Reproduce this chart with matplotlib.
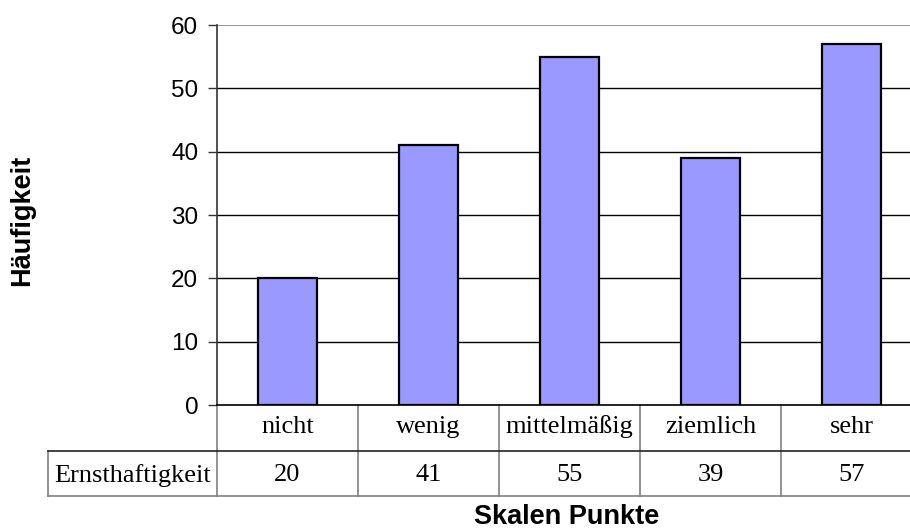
import matplotlib
matplotlib.use("Agg")
import matplotlib.pyplot as plt
from matplotlib.lines import Line2D

categories = ["nicht", "wenig", "mittelmäßig", "ziemlich", "sehr"]
series_name = "Ernsthaftigkeit"
values = [20, 41, 55, 39, 57]
y_ticks = [0, 10, 20, 30, 40, 50, 60]

W, H = 910, 532
fig = plt.figure(figsize=(W / 100, H / 100), dpi=100)

# plot area in pixel coordinates
left, right, top, bottom = 217, 922, 25, 405
ax = fig.add_axes([left / W, 1 - bottom / H, (right - left) / W, (bottom - top) / H])

x = list(range(len(categories)))
ax.bar(x, values, width=0.42, color="#9999FF", edgecolor="black", linewidth=1.6, zorder=3)

ax.set_xlim(-0.5, len(categories) - 0.5)
ax.set_ylim(0, 60)
ax.set_yticks(y_ticks)
ax.set_yticklabels([str(t) for t in y_ticks], fontsize=17.5, family="Liberation Sans")
ax.tick_params(axis="y", direction="out", length=6.5, width=1, color="#333333", pad=7)
ax.set_xticks([])

for t in y_ticks[1:-1]:
    ax.axhline(t, color="black", linewidth=1, zorder=1)
ax.axhline(60, color="#999999", linewidth=1.5, zorder=1)

for s in ["top", "right"]:
    ax.spines[s].set_visible(False)
ax.spines["left"].set_color("#333333")
ax.spines["left"].set_linewidth(1.2)
ax.spines["bottom"].set_color("black")
ax.spines["bottom"].set_linewidth(1.2)

# data table below the plot
ph = bottom - top
r1 = -(451 - bottom) / ph
r2 = -(496 - bottom) / ph
left_cell = ax.transAxes.inverted().transform(fig.transFigure.transform((48 / W, 0)))[0]
grey = "#808080"

def line(xs, ys, color, lw=1.0):
    ax.add_line(Line2D(xs, ys, transform=ax.transAxes, color=color, linewidth=lw, clip_on=False))

xmin, xmax = ax.get_xlim()
def xfrac(v):
    return (v - xmin) / (xmax - xmin)

for i in range(len(categories) + 1):
    xb = xfrac(i - 0.5)
    line([xb, xb], [0, r2], grey, 1.2)
line([left_cell, left_cell], [r1, r2], grey, 1.2)
line([left_cell, 1], [r1, r1], "#222222", 1.2)
line([left_cell, 1], [r2, r2], grey, 1.2)

serif = "Liberation Serif"
for i, (c, v) in enumerate(zip(categories, values)):
    xc = xfrac(i)
    ax.text(xc, r1 / 2 + 0.003, c, transform=ax.transAxes, ha="center", va="center",
            fontsize=19, family=serif, clip_on=False)
    ax.text(xc, (r1 + r2) / 2 - 0.004, str(v), transform=ax.transAxes, ha="center", va="center",
            fontsize=19, family=serif, clip_on=False)
ax.text((left_cell + 0) / 2, (r1 + r2) / 2 - 0.004, series_name, transform=ax.transAxes,
        ha="center", va="center", fontsize=19, family=serif, clip_on=False)

fig.text(22 / W, 1 - 220 / H, "Häufigkeit", rotation=90, ha="center", va="center",
         fontsize=19.5, fontweight="bold", family="Liberation Sans")
fig.text(567 / W, 1 - 517 / H, "Skalen Punkte", ha="center", va="center",
         fontsize=19.5, fontweight="bold", family="Liberation Sans")

fig.savefig("out.png", dpi=100, facecolor="white")
